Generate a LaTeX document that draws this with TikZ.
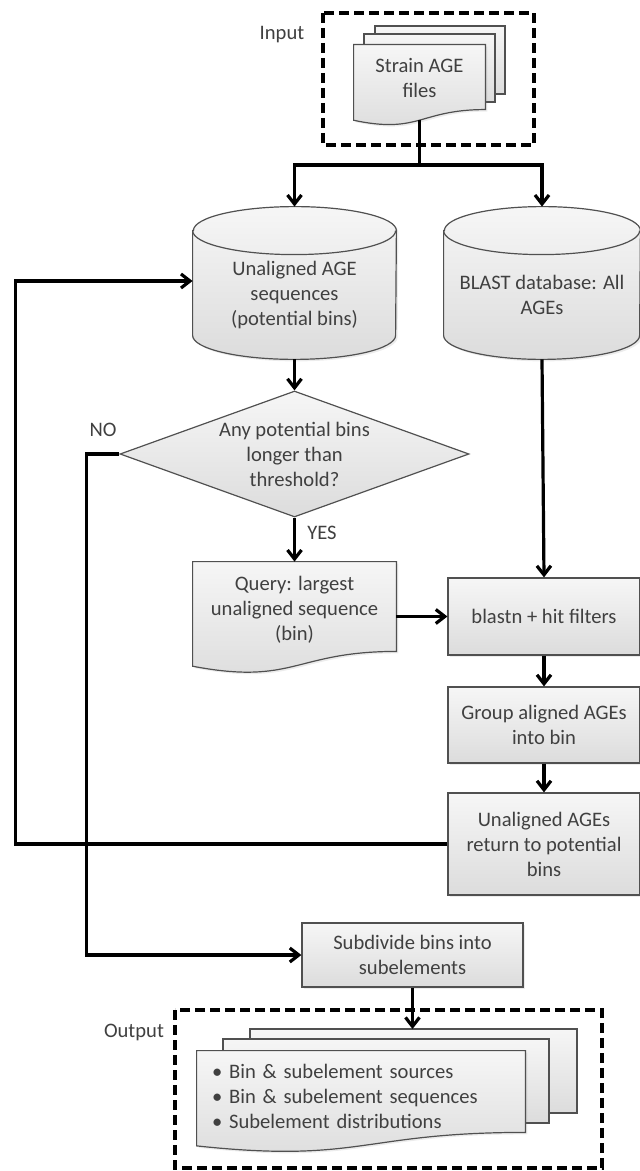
\documentclass[tikz,border=0pt]{standalone}
\usepackage{fontspec}
\setmainfont{Carlito}
\usetikzlibrary{shapes.geometric,arrows.meta,calc,backgrounds,shadows}

\definecolor{inkgray}{HTML}{404040}
\definecolor{edgegray}{HTML}{505050}
\definecolor{fillhi}{HTML}{F6F6F6}
\definecolor{filllo}{HTML}{DCDCDC}

\tikzset{
  every node/.style={font=\fontsize{10.3}{12.5}\selectfont, text=inkgray},
  greyfill/.style={top color=fillhi, bottom color=filllo},
  outline/.style={draw=edgegray, line width=0.6pt},
  softshadow/.style={drop shadow={shadow xshift=1pt, shadow yshift=-1pt, opacity=0.15}},
  procbox/.style={rectangle, outline, greyfill, softshadow, align=center, inner sep=0pt},
  decision/.style={diamond, outline, greyfill, align=center, aspect=2.77, inner sep=0pt},
  plain/.style={align=center, inner sep=0pt},
  flow/.style={line width=1.6pt, -{Straight Barb[length=4.5pt,width=7pt]}},
  wire/.style={line width=1.6pt},
  dashframe/.style={line width=1.6pt, dash pattern=on 5pt off 2.5pt},
}

% wavy document sheet behind a node (#2 = full height in px)
\newcommand\docsheet[2]{%
  \begin{pgfonlayer}{background}
    \draw[outline, greyfill, softshadow]
      (#1.north west) -- (#1.north east) -- ($(#1.north east)+(0,0.802*#2)$)
      .. controls ($(#1.north)+(0,0.802*#2)$) and ($(#1.north)+(0,1.1075*#2)$)
      .. ($(#1.north west)+(0,0.934*#2)$) -- cycle;
  \end{pgfonlayer}
  \coordinate (#1 foot) at ($(#1.north)+(0,0.933*#2)$);
}

% database drum behind a node (#2 = half width)
\newcommand\dbdrum[2]{%
  \begin{pgfonlayer}{background}
    \draw[outline, greyfill, softshadow] (#1.north west) -- ([yshift=12pt]#1.south west)
      arc[start angle=180, end angle=360, x radius=#2, y radius=12pt]
      -- (#1.north east)
      arc[start angle=0, end angle=180, x radius=#2, y radius=12pt] -- cycle;
    \draw[outline] (#1.north west)
      arc[start angle=180, end angle=360, x radius=#2, y radius=12pt];
  \end{pgfonlayer}
}

\begin{document}
\begin{tikzpicture}[x=0.5pt, y=-0.5pt]
  \useasboundingbox (0,0) rectangle (640,1171);

  % input files
  \node[plain] (inlbl) at (282,35) {Input};
  \draw[dashframe] (323,13) rectangle (534,145);
  \begin{pgfonlayer}{background}
    \draw[outline, greyfill] (375,26) rectangle (505,94);
    \draw[outline, greyfill] (364,34) rectangle (495,102);
  \end{pgfonlayer}
  \node[plain, minimum width=65.5pt, minimum height=33pt] (strain) at (419.5,78) {Strain AGE\\files};
  \docsheet{strain}{81}

  % databases
  \node[plain, minimum width=101.5pt, minimum height=64pt] (pool) at (294.5,295)
    {Unaligned AGE\\sequences\\(potential bins)};
  \dbdrum{pool}{50.75pt}
  \node[plain, minimum width=98pt, minimum height=64pt] (blastdb) at (542,295)
    {BLAST database: All\\AGEs};
  \dbdrum{blastdb}{49pt}

  % main loop
  \node[decision, minimum width=174.5pt, minimum height=63pt] (decide) at (294.5,454)
    {Any potential bins\\longer than\\threshold?};
  \node[plain] (nolbl) at (103,430) {NO};
  \node[plain] (yeslbl) at (322,533) {YES};

  \node[plain, minimum width=101.5pt, minimum height=48pt] (query) at (294.5,610)
    {Query: largest\\unaligned sequence\\(bin)};
  \docsheet{query}{112}

  \node[procbox, minimum width=96pt, minimum height=38.5pt] (blast) at (544,616.5) {blastn + hit filters};
  \node[procbox, minimum width=96pt, minimum height=38pt] (group) at (544,725) {Group aligned AGEs\\into bin};
  \node[procbox, minimum width=96pt, minimum height=51pt] (unal) at (544,844)
    {Unaligned AGEs\\return to potential\\bins};
  \node[procbox, minimum width=110.5pt, minimum height=32pt] (subdiv) at (412.5,955)
    {Subdivide bins into\\subelements};

  % output files
  \node[plain] (outlbl) at (134,1032) {Output};
  \draw[dashframe] (175,1010) rectangle (602,1168);
  \begin{pgfonlayer}{background}
    \draw[outline, greyfill] (250,1029) rectangle (577,1113);
    \draw[outline, greyfill] (223,1039) rectangle (549,1123);
  \end{pgfonlayer}
  \node[plain, align=left, text width=149pt, inner xsep=7.5pt, minimum height=45pt] (results) at (361,1096)
    {\textbullet\ Bin \& subelement sources\\
     \textbullet\ Bin \& subelement sequences\\
     \textbullet\ Subelement distributions};
  \docsheet{results}{102}

  % connectors
  \coordinate (fork) at (419.5,165);
  \coordinate (outtop) at (412.5,1029);
  \draw[wire] (strain foot) -- (fork);
  \draw[flow] (fork) -| ([yshift=12pt]pool.north);
  \draw[flow] (fork) -| ([yshift=12pt]blastdb.north);
  \draw[flow] (pool.south) -- (decide.north);
  \draw[flow] (decide.south) -- (query.north);
  \draw[flow] (decide.west) -- ++(-33,0) |- (subdiv.west);
  \draw[flow] (blastdb.south) -- (blast.north);
  \draw[flow] (query.east |- blast.west) -- (blast.west);
  \draw[flow] (blast.south) -- (group.north);
  \draw[flow] (group.south) -- (unal.north);
  \draw[flow] (unal.west) -- ++(-432,0) |- ([yshift=7pt]pool.west);
  \draw[flow] (subdiv.south) -- (outtop);
\end{tikzpicture}
\end{document}
